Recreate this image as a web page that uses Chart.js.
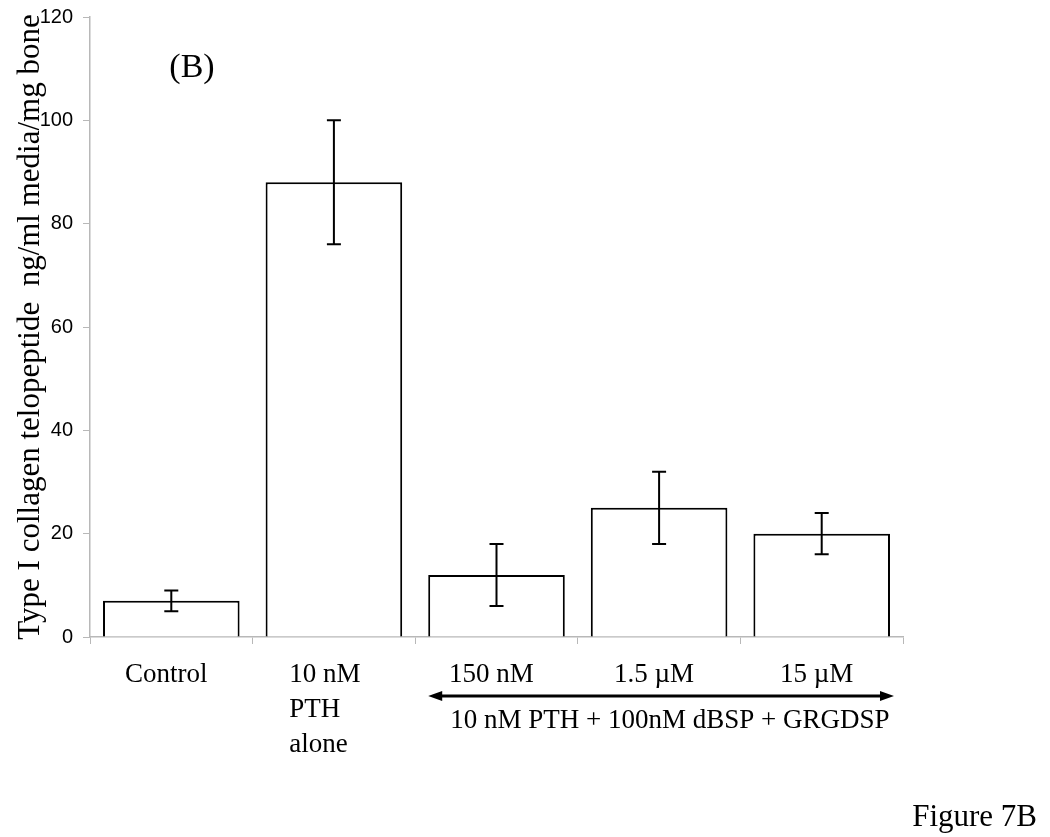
<!DOCTYPE html>
<html>
<head>
<meta charset="utf-8">
<script src="https://cdn.jsdelivr.net/npm/chart.js@4.4.1/dist/chart.umd.min.js"></script>
<style>
  html, body { margin: 0; padding: 0; background: #fff; }
  #wrap { position: relative; width: 1050px; height: 837px; }
</style>
</head>
<body>
<div id="wrap"><canvas id="chart" width="1050" height="837"></canvas></div>
<script>
  // values (ng/ml media / mg bone)
  const categories = ["Control", ["10 nM", "PTH", "alone"], "150 nM", "1.5 \u00b5M", "15 \u00b5M"];
  const means = [7, 88, 12, 25, 20];
  const errLow = [5, 76, 6, 18, 16];
  const errHigh = [9, 100, 18, 32, 24];
  const yTicks = [0, 20, 40, 60, 80, 100, 120];

  const SERIF = "'Liberation Serif', 'Times New Roman', serif";
  const SANS = "'Liberation Sans', Arial, sans-serif";
  const AXIS_GREY = "#b8b8b8";

  // error bars + category labels + the treatment arrow
  const extrasPlugin = {
    id: "extras",
    afterDatasetsDraw(chart) {
      const ctx = chart.ctx;
      const x = chart.scales.x;
      const y = chart.scales.y;
      const meta = chart.getDatasetMeta(0);

      ctx.save();
      ctx.strokeStyle = "#000";
      ctx.lineWidth = 2;
      means.forEach((m, i) => {
        const cx = x.getPixelForValue(i);
        const yLo = y.getPixelForValue(errLow[i]);
        const yHi = y.getPixelForValue(errHigh[i]);
        ctx.beginPath();
        ctx.moveTo(cx, yLo); ctx.lineTo(cx, yHi);
        ctx.moveTo(cx - 7, yLo); ctx.lineTo(cx + 7, yLo);
        ctx.moveTo(cx - 7, yHi); ctx.lineTo(cx + 7, yHi);
        ctx.stroke();
      });

      // category labels
      ctx.fillStyle = "#000";
      ctx.font = "27px " + SERIF;
      ctx.textBaseline = "middle";
      const firstLine = y.bottom + 38;
      categories.forEach((lab, i) => {
        const cx = x.getPixelForValue(i);
        if (Array.isArray(lab)) {
          const w = Math.max(...lab.map((s) => ctx.measureText(s).width));
          ctx.textAlign = "left";
          lab.forEach((s, k) => ctx.fillText(s, cx - w / 2 - 9, firstLine + k * 35));
        } else {
          ctx.textAlign = "center";
          ctx.fillText(lab, cx - 5, firstLine);
        }
      });

      // double-headed arrow under the GRGDSP groups
      const bw = meta.data[2].width;
      const ax0 = x.getPixelForValue(2) - bw / 2;
      const ax1 = x.getPixelForValue(4) + bw / 2 + 4;
      const ay = y.bottom + 59;
      ctx.lineWidth = 3;
      ctx.beginPath();
      ctx.moveTo(ax0 + 10, ay); ctx.lineTo(ax1 - 10, ay);
      ctx.stroke();
      ctx.beginPath();
      ctx.moveTo(ax0, ay); ctx.lineTo(ax0 + 14, ay - 5); ctx.lineTo(ax0 + 14, ay + 5); ctx.closePath();
      ctx.moveTo(ax1, ay); ctx.lineTo(ax1 - 14, ay - 5); ctx.lineTo(ax1 - 14, ay + 5); ctx.closePath();
      ctx.fill();

      ctx.textAlign = "left";
      ctx.fillText("10 nM PTH + 100nM dBSP + GRGDSP", ax0 + 22, ay + 25);

      // panel letter and figure tag
      ctx.font = "34px " + SERIF;
      ctx.textAlign = "center";
      ctx.fillText("(B)", 192, 68);
      ctx.font = "31px " + SERIF;
      ctx.textAlign = "right";
      ctx.fillText("Figure 7B", 1037, 818);
      ctx.restore();
    },
  };

  new Chart(document.getElementById("chart"), {
    type: "bar",
    data: {
      labels: categories,
      datasets: [{
        data: means,
        backgroundColor: "#ffffff",
        borderColor: "#000000",
        borderWidth: 2,
        barPercentage: 0.84,
        categoryPercentage: 1.0,
      }],
    },
    options: {
      responsive: false,
      animation: false,
      events: [],
      layout: { padding: { top: 17, right: 147, left: 0, bottom: 0 } },
      plugins: { legend: { display: false }, tooltip: { enabled: false } },
      scales: {
        x: {
          grid: { display: true, offset: true, drawOnChartArea: false, drawTicks: true, tickLength: 7, color: AXIS_GREY },
          border: { color: AXIS_GREY, width: 1.5 },
          ticks: { display: false },
          afterFit(scale) { scale.height = 200; },
        },
        y: {
          min: 0,
          max: 120,
          afterBuildTicks(scale) { scale.ticks = yTicks.map((v) => ({ value: v })); },
          grid: { display: true, drawOnChartArea: false, drawTicks: true, tickLength: 7, color: AXIS_GREY },
          border: { color: AXIS_GREY, width: 1.5 },
          ticks: { color: "#000", font: { family: SANS, size: 20 }, padding: 10 },
          title: {
            display: true,
            text: "Type I collagen telopeptide  ng/ml media/mg bone",
            color: "#000",
            font: { family: SERIF, size: 31 },
            padding: { top: 12, bottom: 0 },
          },
          afterFit(scale) {
            scale.width = 90;
            scale.paddingTop = 0;
            scale.paddingBottom = 0;
          },
        },
      },
    },
    plugins: [extrasPlugin],
  });
</script>
</body>
</html>
